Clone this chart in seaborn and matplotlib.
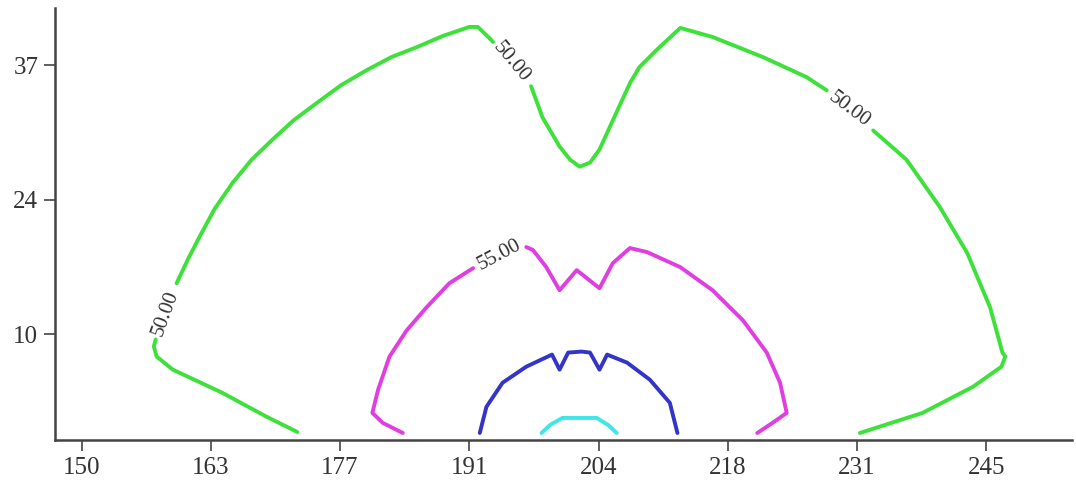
import pandas as pd
import matplotlib
matplotlib.use("Agg")
import matplotlib.pyplot as plt
import seaborn as sns

# contour lines, split where the inline labels break them
green_x = [
    [172.5, 169.3, 164.6, 159.4, 157.7, 157.4, 157.6],
    [159.8, 161.0, 162.2, 163.8, 165.7, 167.7, 169.9, 172.1, 174.5, 177.1, 179.8, 182.4,
     185.1, 187.8, 190.6, 191.5, 192.7, 193.1],
    [197.1, 198.3, 200.1, 201.2, 202.2, 203.3, 204.3, 205.7, 207.5, 208.5, 210.3, 212.8,
     216.2, 221.5, 226.1, 228.2],
    [233.1, 236.6, 240.1, 243.0, 245.4, 246.7, 247.0, 246.6, 243.6, 238.3, 231.7],
]
green_y = [
    [0.8, 2.3, 4.7, 7.0, 8.3, 9.3, 10.0],
    [15.6, 18.0, 20.2, 23.0, 25.6, 27.9, 29.9, 31.8, 33.5, 35.3, 36.8, 38.1,
     39.1, 40.2, 41.1, 41.1, 40.0, 39.6],
    [35.2, 32.1, 29.2, 27.9, 27.2, 27.6, 28.9, 31.8, 35.5, 37.1, 38.8, 41.0,
     40.1, 38.1, 36.1, 34.8],
    [30.8, 27.9, 23.2, 18.6, 13.2, 8.7, 8.3, 7.3, 5.3, 2.7, 0.7],
]
magenta_x = [
    [183.6, 181.5, 180.4, 181.0, 182.2, 184.0, 186.1, 188.5, 191.0],
    [196.6, 197.3, 198.7, 200.1, 201.9, 204.3, 205.7, 207.5, 209.3, 212.8, 216.2,
     219.4, 221.9, 223.3, 224.0, 222.5, 220.9],
]
magenta_y = [
    [0.7, 1.7, 2.7, 5.0, 8.3, 10.9, 13.2, 15.6, 17.1],
    [19.2, 18.9, 17.2, 14.9, 16.9, 15.1, 17.6, 19.1, 18.7, 17.2, 14.9,
     11.9, 8.7, 5.7, 2.7, 1.7, 0.7],
]
blue_x = [[191.7, 192.4, 194.1, 196.6, 199.3, 200.1, 201.0, 202.4, 203.3, 204.3, 205.1,
           207.2, 209.6, 211.7, 212.5]]
blue_y = [[0.7, 3.3, 5.7, 7.3, 8.5, 7.0, 8.7, 8.8, 8.7, 7.0, 8.5, 7.7, 6.0, 3.7, 0.7]]
cyan_x = [[198.2, 199.1, 200.4, 204.0, 205.2, 206.1]]
cyan_y = [[0.7, 1.5, 2.2, 2.2, 1.5, 0.7]]

levels = ["50.00", "55.00", "60.00", "65.00"]
line_x = [green_x, magenta_x, blue_x, cyan_x]
line_y = [green_y, magenta_y, blue_y, cyan_y]
colors = ["#3ee03a", "#e03ee0", "#3434c8", "#3ee6e6"]

# inline labels: text, x, y, screen angle
label_text = ["50.00", "50.00", "50.00", "55.00"]
label_x = [158.6, 195.0, 230.6, 193.8]
label_y = [12.6, 37.6, 32.9, 18.4]
label_rot = [70, -50, -37, 28]

xticks = [149.8 + 13.6 * k for k in range(8)]
xlabels = ["150", "163", "177", "191", "204", "218", "231", "245"]
yticks = [10.5, 23.9, 37.3]
ylabels = ["10", "24", "37"]

rows = []
for lev, xs, ys in zip(levels, line_x, line_y):
    for i, (sx, sy) in enumerate(zip(xs, ys)):
        for a, b in zip(sx, sy):
            rows.append({"level": lev, "seg": f"{lev}_{i}", "x": a, "y": b})
df = pd.DataFrame(rows)

sns.set_style("ticks")
plt.rcParams["font.family"] = ["Liberation Serif", "DejaVu Serif"]

fig = plt.figure(figsize=(10.76, 4.90), dpi=100)
ax = fig.add_axes([0.0511, 0.102, 0.945, 0.882])

for lev, col in zip(levels, colors):
    sub = df[df["level"] == lev]
    sns.lineplot(data=sub, x="x", y="y", units="seg", estimator=None, sort=False,
                 color=col, linewidth=2.8, ax=ax, legend=False)

for t, lx, ly, r in zip(label_text, label_x, label_y, label_rot):
    ax.text(lx, ly, t, rotation=r, ha="center", va="center", fontsize=15,
            color="#333333", rotation_mode="anchor")

ax.set_xlim(147.0, 254.0)
ax.set_ylim(0, 43.0)
ax.set_xticks(xticks)
ax.set_xticklabels(xlabels)
ax.set_yticks(yticks)
ax.set_yticklabels(ylabels)
ax.set_xlabel("")
ax.set_ylabel("")
ax.tick_params(axis="both", direction="out", length=8, width=1.2, color="#444444",
               labelsize=18, labelcolor="#333333", pad=4)

sns.despine(ax=ax)
for side in ["left", "bottom"]:
    ax.spines[side].set_color("#444444")
    ax.spines[side].set_linewidth(1.8)
    ax.spines[side].set_linestyle((0, (3, 1)))

fig.savefig("out.png", dpi=100, facecolor="white")
